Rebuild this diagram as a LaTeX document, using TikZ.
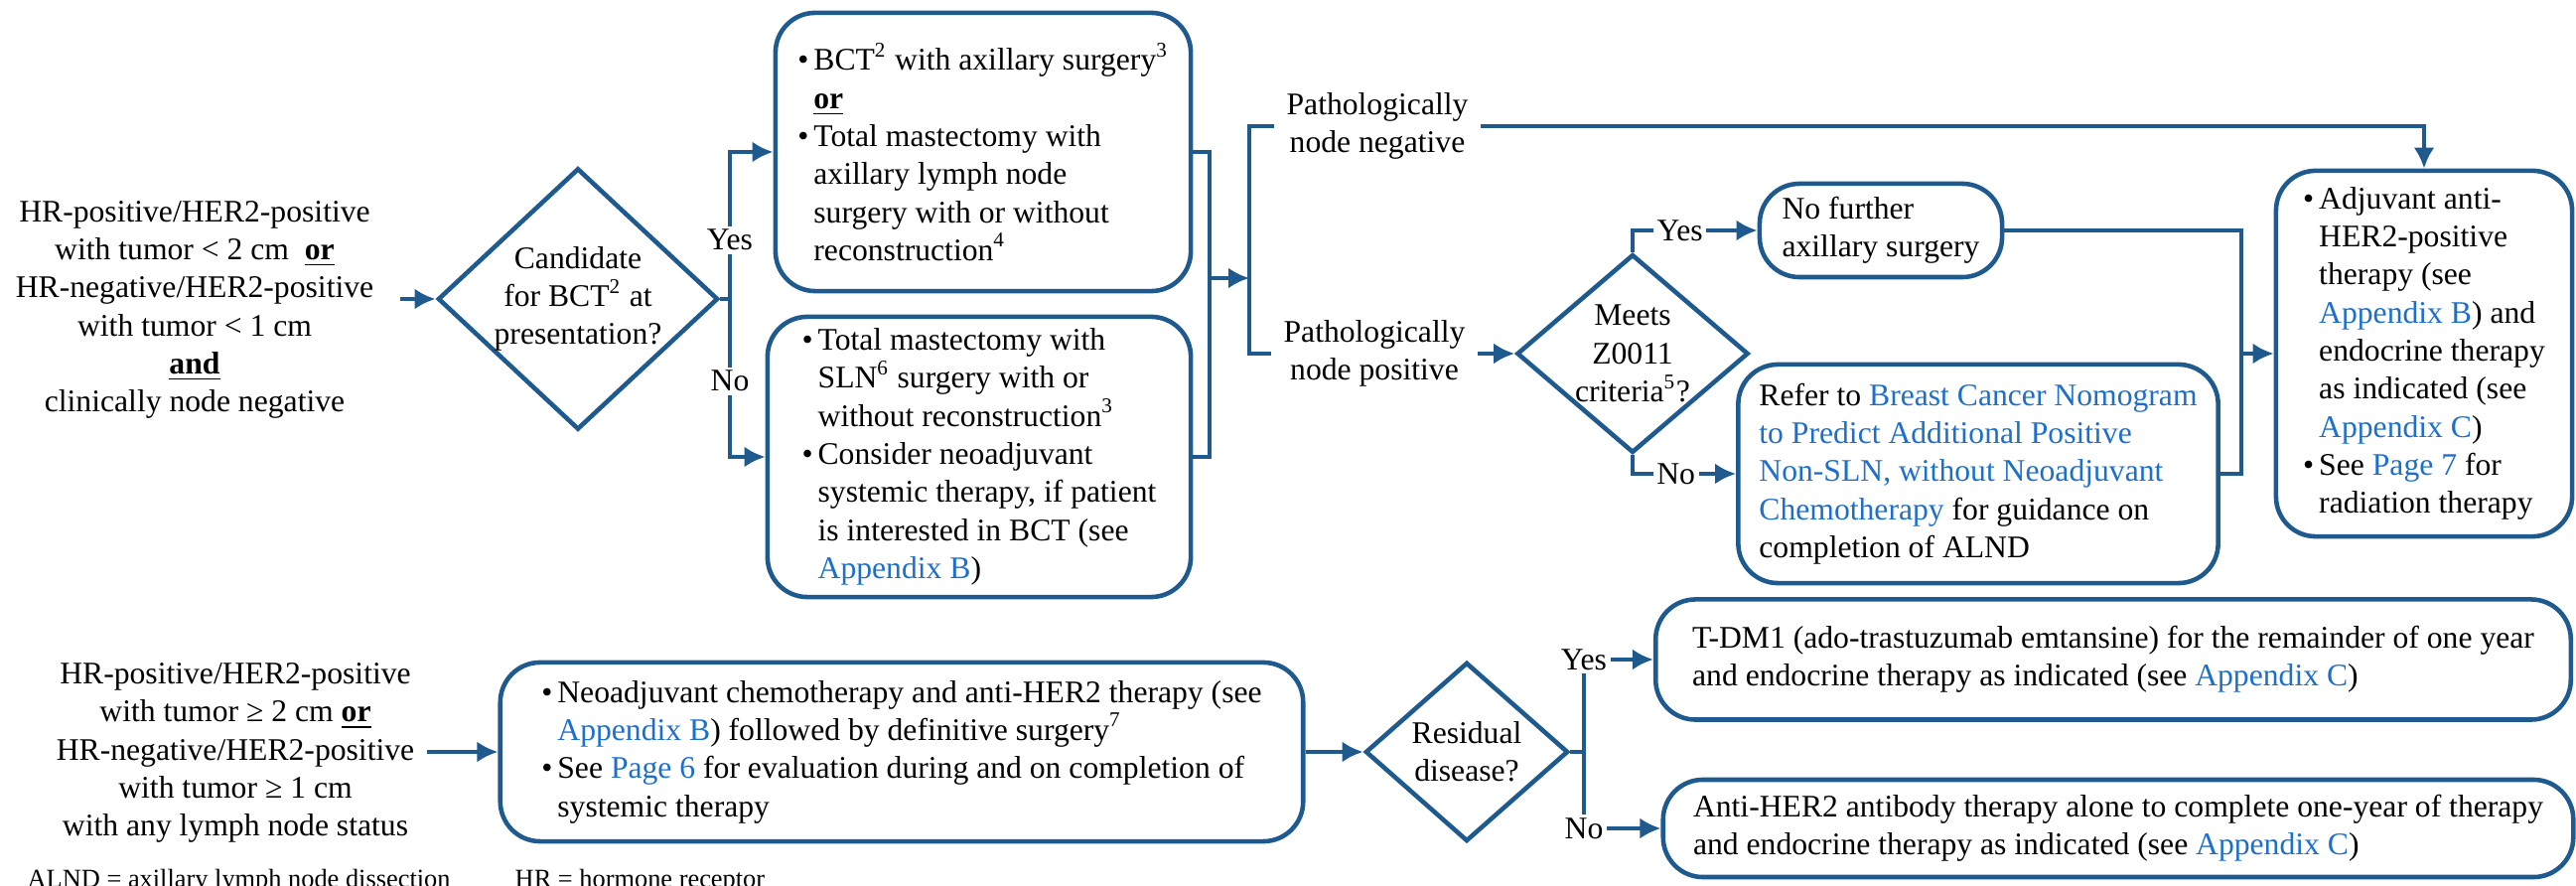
\documentclass[tikz,border=0pt]{standalone}
\usepackage{fontspec}
\setmainfont{Liberation Serif}
\usetikzlibrary{arrows.meta,shapes.geometric}
\definecolor{flow}{HTML}{1F5A8F}
\definecolor{linkblue}{HTML}{1C6FCB}
\newcommand{\flowfont}{\fontsize{9}{10.9}\selectfont}
\newcommand{\notefont}{\fontsize{7.5}{9}\selectfont}
\newcommand{\lnk}[1]{\textcolor{linkblue}{#1}}
\newcommand{\bul}{\makebox[1.6mm][l]{\textbullet}}
\newcommand{\ind}{\hspace*{1.6mm}}

\begin{document}
\begin{tikzpicture}[
  x=0.01cm,
  y=-0.01cm,
  txt/.style={align=center, font=\flowfont},
  box/.style={draw=flow, line width=1.3pt, rounded corners=4mm, align=left, font=\flowfont},
  dec/.style={diamond, draw=flow, line width=1.3pt, inner sep=-1pt, align=center, font=\flowfont},
  lbl/.style={fill=white, inner sep=1pt, font=\flowfont},
  wire/.style={draw=flow, line width=1.3pt},
  arrow/.style={wire, -{Latex[length=2.1mm,width=2.1mm]}}
]
  \useasboundingbox (0,0) rectangle (2594,892);

  % upper pathway
  \node[txt] (in1) at (196,312) {HR-positive/HER2-positive\\ with tumor < 2 cm~ \underline{\textbf{or}}\\ HR-negative/HER2-positive\\ with tumor < 1 cm\\ \underline{\textbf{and}}\\ clinically node negative};
  \node[dec, minimum width=2.82cm, minimum height=2.63cm] (bctq) at (582,301) {Candidate\\ for BCT\textsuperscript{2} at\\ presentation?};
  \node[box, minimum width=4.18cm, minimum height=2.8cm] (bct) at (990,153) {\bul BCT\textsuperscript{2} with axillary surgery\textsuperscript{3}\\ \ind\underline{\textbf{or}}\\ \bul Total mastectomy with\\ \ind axillary lymph node\\ \ind surgery with or without\\ \ind reconstruction\textsuperscript{4}};
  \node[box, minimum width=4.26cm, minimum height=2.78cm] (sln) at (986,460) {\bul Total mastectomy with\\ \ind SLN\textsuperscript{6} surgery with or\\ \ind without reconstruction\textsuperscript{3}\\ \bul Consider neoadjuvant\\ \ind systemic therapy, if patient\\ \ind is interested in BCT (see\\ \ind \lnk{Appendix B})};
  \node[txt] (pneg) at (1387,127) {Pathologically\\ node negative};
  \node[txt] (ppos) at (1384,356) {Pathologically\\ node positive};
  \node[dec, minimum width=2.33cm, minimum height=1.93cm] (zq) at (1644,356) {Meets\\ Z0011\\ criteria\textsuperscript{5}?};
  \node[box, minimum width=2.44cm, minimum height=0.94cm] (nofur) at (1894,232) {No further\\ axillary surgery};
  \node[box, minimum width=4.83cm, minimum height=2.2cm] (refer) at (1992,477) {Refer to \lnk{Breast Cancer Nomogram}\\ \lnk{to Predict Additional Positive}\\ \lnk{Non-SLN, without Neoadjuvant}\\ \lnk{Chemotherapy} for guidance on\\ completion of ALND};
  \node[box, minimum width=2.98cm, minimum height=3.68cm] (adj) at (2441,356) {\bul Adjuvant anti-\\ \ind HER2-positive\\ \ind therapy (see\\ \ind \lnk{Appendix B}) and\\ \ind endocrine therapy\\ \ind as indicated (see\\ \ind \lnk{Appendix C})\\ \bul See \lnk{Page 7} for\\ \ind radiation therapy};

  \coordinate (ysplit) at (735,301);
  \coordinate (merge) at (1218,280);
  \coordinate (brk) at (1258,280);
  \coordinate (zjoin) at (2257,356);

  \draw[arrow, shorten <=1.4mm] (in1.east |- bctq.west) -- (bctq.west);
  \draw[wire] (bctq.east) -- (ysplit);
  \draw[arrow] (ysplit) |- node[lbl, pos=0.2] {Yes} (bct.west);
  \draw[arrow] (ysplit) |- node[lbl, pos=0.26] {No} (sln.west);
  \draw[wire] (bct.east) -| (merge) |- (sln.east);
  \draw[arrow] (merge) -- (brk);
  \draw[wire] (pneg.west) -| (brk) |- (ppos.west);
  \draw[arrow] (pneg.east) -| (adj.north);
  \draw[arrow] (ppos.east) -- (zq.west);
  \draw[arrow] (zq.north) |- node[lbl, pos=0.69] {Yes} (nofur.west);
  \draw[arrow] (zq.south) |- node[lbl, pos=0.71] {No} (refer.west);
  \draw[wire] (nofur.east) -| (zjoin) |- (refer.east);
  \draw[arrow] (zjoin) -- (adj.west);

  % lower pathway
  \node[txt] (in2) at (237,758) {HR-positive/HER2-positive\\ with tumor ≥ 2 cm \underline{\textbf{or}}\\ HR-negative/HER2-positive\\ with tumor ≥ 1 cm\\ with any lymph node status};
  \node[box, minimum width=8.08cm, minimum height=1.8cm] (neo) at (908,757) {\bul Neoadjuvant chemotherapy and anti-HER2 therapy (see\\ \ind\lnk{Appendix B}) followed by definitive surgery\textsuperscript{7}\\ \bul See \lnk{Page 6} for evaluation during and on completion of\\ \ind systemic therapy};
  \node[dec, minimum width=2.04cm, minimum height=1.8cm] (resq) at (1477,757) {Residual\\ disease?};
  \node[box, minimum width=9.21cm, minimum height=1.21cm] (tdm) at (2128,664) {T-DM1 (ado-trastuzumab emtansine) for the remainder of one year\\ and endocrine therapy as indicated (see \lnk{Appendix C})};
  \node[box, minimum width=9.16cm, minimum height=0.98cm] (antih) at (2133,834) {Anti-HER2 antibody therapy alone to complete one-year of therapy\\ and endocrine therapy as indicated (see \lnk{Appendix C})};

  \coordinate (rsplit) at (1595,757);

  \draw[arrow] (in2.east |- neo.west) -- (neo.west);
  \draw[arrow] (neo.east) -- (resq.west);
  \draw[wire] (resq.east) -- (rsplit);
  \draw[arrow] (rsplit) |- node[lbl, pos=0.5] {Yes} (tdm.west);
  \draw[arrow] (rsplit) |- node[lbl, pos=0.5] {No} (antih.west);

  % abbreviations
  \node[anchor=base west, inner sep=0pt, font=\notefont] (abbr1) at (27,894) {ALND = axillary lymph node dissection};
  \node[anchor=base west, inner sep=0pt, font=\notefont] (abbr2) at (518,894) {HR = hormone receptor};
\end{tikzpicture}
\end{document}
